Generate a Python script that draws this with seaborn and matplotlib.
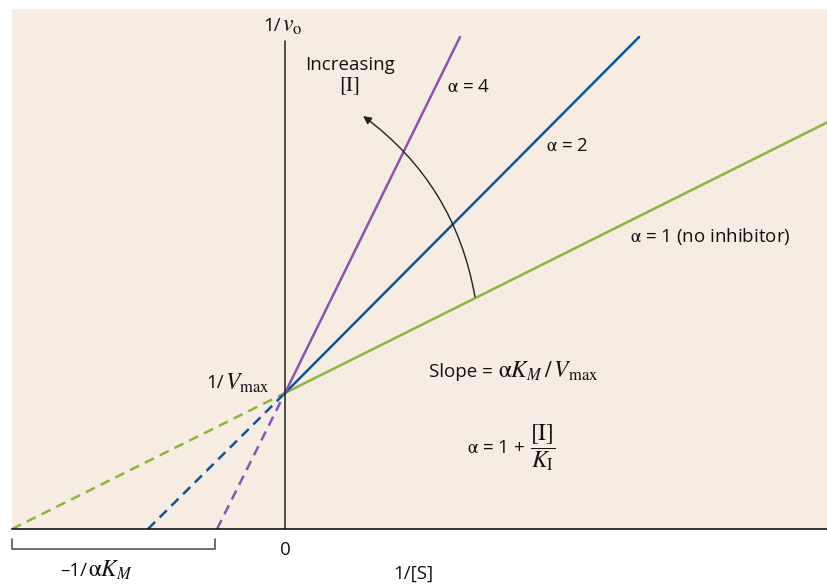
import pandas as pd
import seaborn as sns
import matplotlib.pyplot as plt

# values (1/Vmax = 1, Km = 1)
alphas = [1, 2, 4]
x_intercepts = [-1.0, -0.502, -0.249]
end_x = [1.989, 1.297, 0.641]
end_y = [2.993, 3.618, 3.618]
inv_vmax = 1.0
line_colors = {1: '#8db53c', 2: '#0e5697', 4: '#8a55b0'}

sns.set_theme(style='white')
plt.rcParams['font.family'] = ['Open Sans', 'DejaVu Sans']
plt.rcParams['mathtext.fontset'] = 'stix'
plt.rcParams['text.color'] = '#111111'

rows = []
for a, xi, xe, ye in zip(alphas, x_intercepts, end_x, end_y):
    rows.append({'x': xi, 'y': 0.0, 'alpha': a, 'part': 'ext', 'seg': f'{a}e'})
    rows.append({'x': 0.0, 'y': inv_vmax, 'alpha': a, 'part': 'ext', 'seg': f'{a}e'})
    rows.append({'x': 0.0, 'y': inv_vmax, 'alpha': a, 'part': 'solid', 'seg': f'{a}s'})
    rows.append({'x': xe, 'y': ye, 'alpha': a, 'part': 'solid', 'seg': f'{a}s'})
db = pd.DataFrame(rows)

fig = plt.figure(figsize=(8.28, 5.86), dpi=100)
ax = fig.add_axes([12/828, 57/586, 816/828, 520/586])
ax.set_facecolor('#f6ece1')

sns.lineplot(data=db, x='x', y='y', hue='alpha', style='part', units='seg',
             estimator=None, sort=False, palette=line_colors,
             dashes={'solid': '', 'ext': (4, 2.6)}, linewidth=1.8,
             legend=False, ax=ax)

ax.set_xlim(-1.0, 1.989)
ax.set_ylim(0, 3.824)
for s in ['top', 'right', 'left']:
    ax.spines[s].set_visible(False)
ax.spines['bottom'].set_color('black')
ax.spines['bottom'].set_linewidth(1.1)
ax.set_xticks([])
ax.set_yticks([])
ax.set_xlabel('')
ax.set_ylabel('')

# y axis
ax.plot([0, 0], [0, 3.588], color='#222222', lw=1.1)

fs = 13.5
mfs = 17
A = r'$\mathrm{\alpha}$'


def label(x, y, sans, math, dx=0):
    # sans part followed by a larger serif math part
    t = ax.text(x, y, sans, ha='left', va='center', fontsize=fs)
    ax.annotate(math, xy=(1, 0.5), xycoords=t, xytext=(dx, 0),
                textcoords='offset points', ha='left', va='center', fontsize=mfs)


ax.text(0.238, 3.41, 'Increasing', ha='center', va='center', fontsize=fs)
ax.text(0.238, 3.255, r'$[\mathrm{I}]$', ha='center', va='center', fontsize=mfs - 2)
ax.text(0.593, 3.25, A + ' = 4', ha='left', va='center', fontsize=fs)
ax.text(0.956, 2.82, A + ' = 2', ha='left', va='center', fontsize=fs)
ax.text(1.264, 2.154, A + ' = 1 (no inhibitor)', ha='left', va='center', fontsize=fs)

label(-0.081, 3.70, '1/', r'$v_\mathrm{o}$', dx=1)
label(-0.29, 1.07, '1/', r'$V_\mathrm{max}$', dx=1)
label(0.527, 1.154, 'Slope = ', r'$\mathrm{\alpha} K_M\,/\,V_\mathrm{max}$')
label(0.667, 0.596, A + ' = 1 + ', r'$\dfrac{[\mathrm{I}]}{K_\mathrm{I}}$', dx=3)
label(-0.824, -0.31, '\u20131/', r'$\mathrm{\alpha} K_M$', dx=1)

# arrow for increasing [I]
ax.annotate('', xy=(0.286, 3.037), xytext=(0.696, 1.706),
            arrowprops=dict(arrowstyle='-|>', color='#222222', lw=1.0,
                            connectionstyle='arc3,rad=0.2', mutation_scale=12,
                            shrinkA=0, shrinkB=0))

# bracket under the x axis
ax.plot([-1.0, -1.0, -0.256, -0.256], [-0.074, -0.147, -0.147, -0.074],
        color='#555555', lw=1.2, clip_on=False)
ax.text(0, -0.154, '0', ha='center', va='center', fontsize=fs)
ax.text(0.469, -0.33, '1/[S]', ha='center', va='center', fontsize=fs)

plt.savefig('out.png', dpi=100)
